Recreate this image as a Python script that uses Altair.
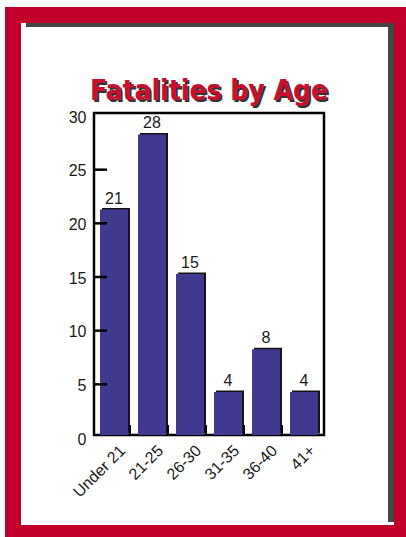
import altair as alt
import pandas as pd

# Fatalities counted per age group
age_groups = ["Under 21", "21-25", "26-30", "31-35", "36-40", "41+"]
fatalities = [21, 28, 15, 4, 8, 4]
y_ticks = [5, 10, 15, 20, 25]
chart_title = "Fatalities by Age"

RED = "#C1002B"
BAR = "#40398F"
SHADOW = "#454545"
FONT = "Liberation Sans"
TITLE_FONT = "DejaVu Sans Condensed"

W, H = 230, 322
PAD_L, PAD_T = 94, 113

bars_df = pd.DataFrame({"age": age_groups, "count": fatalities})
ticks_df = pd.DataFrame({"v": y_ticks})
one = pd.DataFrame({"k": [0]})

x_scale = alt.Scale(domain=age_groups, paddingInner=0.263, paddingOuter=0.158)
y_scale = alt.Scale(domain=[0, 30], nice=False)


def px(x):
    return alt.value(x - PAD_L)


def py(y):
    return alt.value(y - PAD_T)


def band(color, x0, x1, y0, y1):
    return alt.Chart(one).mark_rect(color=color).encode(
        x=px(x0), x2=px(x1), y=py(y0), y2=py(y1)
    )


# Red frame drawn as four bands, plus the shadow of the recessed panel
frame_parts = [
    band(RED, 5, 406, 7, 23),
    band(RED, 5, 21, 7, 537),
    band(RED, 5, 406, 525, 537),
    band(RED, 394, 406, 7, 537),
    band(SHADOW, 26, 394, 23, 27),
    band(SHADOW, 388, 394, 23, 522),
]

x_axis = alt.Axis(
    title=None, labelAngle=-45, labelFontSize=16, labelFont=FONT,
    labelColor="#1a1a1a", domain=False, ticks=False, labelPadding=7,
    labelOffset=3,
)
y_axis = alt.Axis(
    title=None, values=[0, 5, 10, 15, 20, 25, 30], labelFontSize=16,
    labelFont=FONT, labelColor="#1a1a1a", domain=False, ticks=False,
    grid=False, labelPadding=8, labelOffset=4,
)

base = alt.Chart(bars_df).encode(
    x=alt.X("age:N", scale=x_scale, axis=x_axis, sort=age_groups),
    y=alt.Y("count:Q", scale=y_scale, axis=y_axis),
)

bar_shadow = base.mark_bar(color="#151515", xOffset=2, yOffset=-1.5)
bars = base.mark_bar(color=BAR)
labels = base.mark_text(
    baseline="bottom", dy=-3, fontSize=16, font=FONT, color="#1a1a1a"
).encode(text="count:Q")

# Inward tick marks on both axes
y_tick_marks = alt.Chart(ticks_df).mark_rule(color="black", strokeWidth=2.5, yOffset=3).encode(
    y=alt.Y("v:Q", scale=y_scale, axis=y_axis), x=alt.value(0), x2=alt.value(13)
)
x_tick_marks = alt.Chart(bars_df.iloc[:-1]).mark_rule(color="black", strokeWidth=2, xOffset=2).encode(
    x=alt.X("age:N", scale=x_scale, bandPosition=1, axis=x_axis, sort=age_groups),
    y=alt.value(H), y2=alt.value(H - 10),
)

title_shadow = alt.Chart(one).mark_text(
    text=chart_title, font=TITLE_FONT, fontSize=28, fontWeight="bold",
    color="#333333", align="center", baseline="alphabetic",
).encode(x=alt.value(W / 2 + 2), y=py(102))
title_text = alt.Chart(one).mark_text(
    text=chart_title, font=TITLE_FONT, fontSize=28, fontWeight="bold",
    color="#C8102E", align="center", baseline="alphabetic",
).encode(x=alt.value(W / 2), y=py(100))

chart = alt.layer(
    *frame_parts,
    bar_shadow, bars, labels, y_tick_marks, x_tick_marks,
    title_shadow, title_text,
).properties(
    width=W, height=H,
    autosize=alt.AutoSizeParams(type="none"),
    padding={"left": PAD_L, "top": PAD_T, "right": 406 - PAD_L - W, "bottom": 537 - PAD_T - H},
    background="white",
).configure_view(stroke="black", strokeWidth=2.5)

chart.save("out.html", embed_options={"renderer": "svg", "actions": False})
